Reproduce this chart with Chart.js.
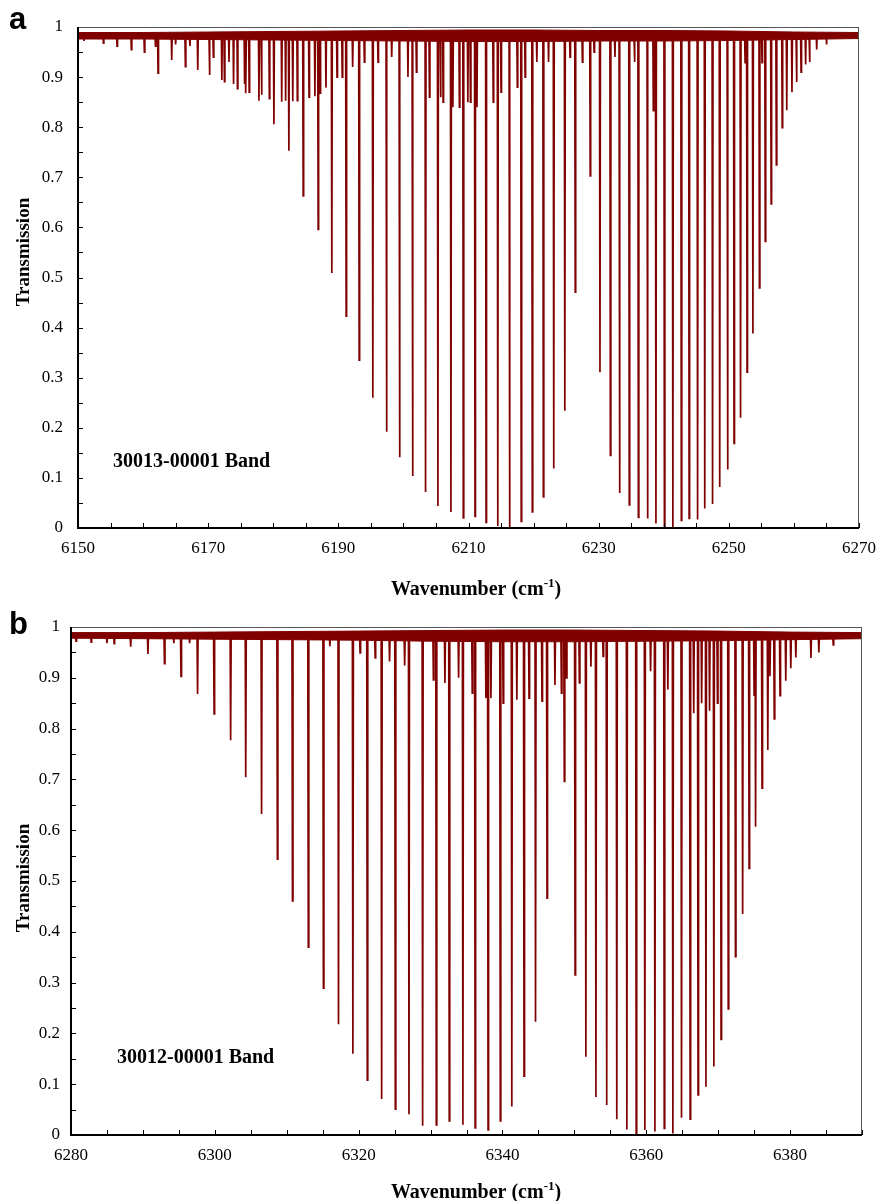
<!DOCTYPE html>
<html>
<head>
<meta charset="UTF-8">
<title>Transmission spectra</title>
<script src="https://cdn.jsdelivr.net/npm/chart.js"></script>
<style>
    body { margin: 0; background: #fff; width: 877px; height: 1201px; overflow: hidden; position: relative; }
    canvas { position: absolute; left: 0; }
    #chartA { top: 0; }
    #chartB { top: 600px; }
</style>
</head>
<body>
<canvas id="chartA" width="877" height="600"></canvas>
<canvas id="chartB" width="877" height="601"></canvas>

<script>
// ---- panel a : 30013-00001 band ----
const aCenters = [6150.9, 6153.9, 6156.0, 6158.2, 6160.2, 6161.9, 6162.3, 6164.4, 6165.0, 6166.5, 6167.2, 6168.4,
    6170.2, 6170.8, 6172.1, 6172.5, 6173.2, 6173.9, 6174.5, 6175.6, 6175.8, 6176.3, 6177.8, 6178.2, 6179.4, 6180.1,
    6181.3, 6181.9, 6182.4, 6183.0, 6183.7, 6184.6, 6185.5, 6186.4, 6186.9, 6187.2, 6188.1, 6189.0, 6189.8, 6190.6,
    6191.2, 6192.2, 6193.2, 6194.0, 6195.3, 6196.1, 6197.4, 6198.2, 6199.4, 6200.7, 6201.4, 6202.0, 6203.4, 6204.0,
    6205.3, 6205.7, 6206.1, 6207.3, 6207.6, 6208.6, 6209.2, 6209.9, 6210.3, 6211.0, 6211.3, 6212.7, 6213.8, 6214.5,
    6215.0, 6216.3, 6217.5, 6218.1, 6218.7, 6219.8, 6220.5, 6221.5, 6222.3, 6223.1, 6224.8, 6225.6, 6226.4, 6227.5,
    6228.7, 6229.3, 6230.2, 6231.8, 6232.5, 6233.2, 6234.7, 6235.5, 6236.1, 6237.5, 6238.4, 6238.8, 6240.1, 6241.4,
    6242.7, 6243.9, 6245.2, 6246.3, 6247.5, 6248.6, 6249.8, 6250.8, 6251.8, 6252.5, 6252.8, 6253.7, 6254.7, 6255.1,
    6255.6, 6256.5, 6257.3, 6258.2, 6258.9, 6259.7, 6260.4, 6261.1, 6261.8, 6262.4, 6263.5, 6265.0];
const aMinima = [0.972, 0.968, 0.962, 0.955, 0.950, 0.962, 0.908, 0.934, 0.965, 0.921, 0.962, 0.914,
    0.904, 0.940, 0.894, 0.891, 0.930, 0.886, 0.877, 0.886, 0.868, 0.870, 0.853, 0.865, 0.857, 0.806,
    0.851, 0.853, 0.753, 0.852, 0.853, 0.663, 0.860, 0.862, 0.596, 0.868, 0.879, 0.509, 0.900, 0.900,
    0.423, 0.920, 0.335, 0.930, 0.260, 0.930, 0.192, 0.940, 0.141, 0.900, 0.104, 0.910, 0.072, 0.860,
    0.044, 0.860, 0.850, 0.032, 0.840, 0.840, 0.020, 0.850, 0.850, 0.023, 0.840, 0.011, 0.850, 0.004,
    0.870, 0.000, 0.880, 0.013, 0.900, 0.032, 0.930, 0.062, 0.930, 0.119, 0.234, 0.940, 0.471, 0.930,
    0.703, 0.950, 0.311, 0.145, 0.940, 0.070, 0.046, 0.930, 0.021, 0.019, 0.833, 0.009, 0.003, 0.000,
    0.015, 0.019, 0.017, 0.039, 0.048, 0.082, 0.117, 0.169, 0.220, 0.929, 0.311, 0.388, 0.479, 0.929,
    0.572, 0.647, 0.725, 0.799, 0.834, 0.870, 0.890, 0.910, 0.925, 0.930, 0.955, 0.965];
const aEnvX = [6150, 6160, 6170, 6180, 6190, 6200, 6210, 6220, 6230, 6240, 6250, 6260, 6270];
const aEnvTop = [0.989, 0.989, 0.990, 0.991, 0.992, 0.993, 0.994, 0.994, 0.993, 0.993, 0.992, 0.990, 0.989];
const aEnvLow = [0.976, 0.976, 0.975, 0.974, 0.973, 0.972, 0.971, 0.971, 0.972, 0.972, 0.973, 0.975, 0.977];

// ---- panel b : 30012-00001 band ----
const bCenters = [6280.7, 6282.8, 6285.0, 6286.0, 6288.3, 6290.7, 6293.0, 6294.3, 6295.3, 6296.5, 6297.6, 6299.9,
    6302.2, 6304.3, 6306.5, 6308.7, 6310.8, 6313.0, 6315.1, 6316.0, 6317.2, 6319.2, 6320.2, 6321.2, 6322.3, 6323.2,
    6324.3, 6325.1, 6326.4, 6327.0, 6328.9, 6330.4, 6330.8, 6332.0, 6332.6, 6333.9, 6334.5, 6335.8, 6336.2, 6337.7,
    6338.0, 6338.4, 6339.7, 6340.1, 6341.3, 6342.0, 6343.0, 6343.7, 6344.6, 6345.5, 6346.2, 6347.3, 6348.2, 6348.6,
    6348.9, 6350.1, 6350.7, 6351.6, 6352.3, 6353.0, 6354.0, 6354.5, 6355.9, 6357.3, 6358.6, 6359.8, 6360.6, 6361.2,
    6362.5, 6363.0, 6363.7, 6364.9, 6366.1, 6366.6, 6367.2, 6367.7, 6368.3, 6368.8, 6369.4, 6369.9, 6370.4, 6371.4,
    6372.4, 6373.4, 6374.3, 6375.0, 6375.2, 6376.1, 6376.9, 6377.2, 6377.8, 6378.6, 6379.4, 6380.1, 6380.8, 6382.9,
    6384.0, 6386.0];
const bMinima = [0.972, 0.970, 0.968, 0.967, 0.961, 0.947, 0.928, 0.968, 0.903, 0.968, 0.868, 0.829,
    0.777, 0.704, 0.632, 0.543, 0.461, 0.370, 0.289, 0.962, 0.218, 0.160, 0.949, 0.108, 0.939, 0.071,
    0.932, 0.051, 0.924, 0.041, 0.018, 0.896, 0.020, 0.890, 0.028, 0.900, 0.020, 0.870, 0.014, 0.860,
    0.010, 0.860, 0.028, 0.850, 0.056, 0.857, 0.116, 0.860, 0.223, 0.854, 0.466, 0.886, 0.870, 0.696,
    0.900, 0.315, 0.890, 0.154, 0.922, 0.075, 0.942, 0.059, 0.031, 0.011, 0.002, 0.010, 0.913, 0.007,
    0.013, 0.877, 0.003, 0.034, 0.031, 0.830, 0.079, 0.850, 0.095, 0.835, 0.135, 0.850, 0.188, 0.248,
    0.351, 0.435, 0.525, 0.866, 0.607, 0.683, 0.758, 0.903, 0.819, 0.865, 0.894, 0.919, 0.940, 0.939,
    0.950, 0.965];
const bEnvX = [6280, 6290, 6300, 6310, 6320, 6330, 6340, 6350, 6360, 6370, 6380, 6390];
const bEnvTop = [0.989, 0.989, 0.990, 0.991, 0.992, 0.993, 0.994, 0.994, 0.993, 0.992, 0.990, 0.989];
const bEnvLow = [0.978, 0.977, 0.976, 0.975, 0.974, 0.972, 0.971, 0.971, 0.972, 0.973, 0.975, 0.977];

const baseLevel = 0.982;
const yTickLabels = ['0', '0.1', '0.2', '0.3', '0.4', '0.5', '0.6', '0.7', '0.8', '0.9', '1'];

const lineColor = '#800000';

// lines drawn as narrow spikes from the baseline down to each minimum
function spectrum(centers, minima, xMin, xMax) {
    const hw = 0.07;
    const order = centers.map((c, i) => i).sort((p, q) => centers[p] - centers[q]);
    const pts = [{ x: xMin, y: baseLevel }];
    order.forEach(i => {
        pts.push({ x: centers[i] - hw, y: baseLevel });
        pts.push({ x: centers[i], y: minima[i] });
        pts.push({ x: centers[i] + hw, y: baseLevel });
    });
    pts.push({ x: xMax, y: baseLevel });
    return pts;
}

function pairs(xs, ys) {
    return xs.map((x, i) => ({ x: x, y: ys[i] }));
}

// inside ticks + frame
const frameTicks = {
    id: 'frameTicks',
    afterDatasetsDraw(chart) {
        const { ctx, chartArea: a, scales: { x, y } } = chart;
        ctx.save();
        ctx.strokeStyle = '#000';
        ctx.lineWidth = 1;
        ctx.beginPath();
        x.ticks.forEach(t => {
            const px = Math.round(x.getPixelForValue(t.value)) + 0.5;
            ctx.moveTo(px, a.bottom);
            ctx.lineTo(px, a.bottom - 5);
        });
        y.ticks.forEach(t => {
            const py = Math.round(y.getPixelForValue(t.value)) + 0.5;
            ctx.moveTo(a.left, py);
            ctx.lineTo(a.left + 5, py);
        });
        ctx.stroke();
        ctx.strokeStyle = '#555';
        ctx.strokeRect(a.left + 0.5, a.top + 0.5, a.width - 1, a.height);
        ctx.strokeStyle = '#000';
        ctx.lineWidth = 2;
        ctx.beginPath();
        ctx.moveTo(a.left, a.top);
        ctx.lineTo(a.left, a.bottom);
        ctx.lineTo(a.right, a.bottom);
        ctx.stroke();
        ctx.restore();
    }
};

// text: panel letter, axis titles, band name
const notes = {
    id: 'notes',
    afterDraw(chart, args, opts) {
        const ctx = chart.ctx;
        ctx.save();
        ctx.fillStyle = '#000';
        ctx.textBaseline = 'alphabetic';
        (opts.items || []).forEach(it => {
            ctx.font = it.font;
            if (it.rotate) {
                ctx.save();
                ctx.translate(it.x, it.y);
                ctx.rotate(-Math.PI / 2);
                ctx.textAlign = 'center';
                ctx.fillText(it.text, 0, 0);
                ctx.restore();
            } else if (it.sup) {
                const w1 = ctx.measureText(it.text).width;
                const w3 = ctx.measureText(it.after).width;
                ctx.font = it.supFont;
                const w2 = ctx.measureText(it.sup).width;
                const x0 = it.x - (w1 + w2 + w3) / 2;
                ctx.textAlign = 'left';
                ctx.font = it.font;
                ctx.fillText(it.text, x0, it.y);
                ctx.font = it.supFont;
                ctx.fillText(it.sup, x0 + w1, it.y - 8);
                ctx.font = it.font;
                ctx.fillText(it.after, x0 + w1 + w2, it.y);
            } else {
                ctx.textAlign = 'left';
                ctx.fillText(it.text, it.x, it.y);
            }
        });
        ctx.restore();
    }
};

const serif = '"Liberation Serif", "Times New Roman", serif';

function makeChart(id, opts) {
    const ctx = document.getElementById(id).getContext('2d');
    return new Chart(ctx, {
        type: 'line',
        data: {
            datasets: [
                {
                    data: pairs(opts.envX, opts.envTop),
                    borderColor: lineColor, borderWidth: 1, pointRadius: 0, fill: false
                },
                {
                    data: pairs(opts.envX, opts.envLow),
                    borderColor: lineColor, borderWidth: 1, pointRadius: 0,
                    backgroundColor: lineColor, fill: '-1'
                },
                {
                    data: spectrum(opts.centers, opts.minima, opts.xMin, opts.xMax),
                    borderColor: lineColor, borderWidth: 1.7, pointRadius: 0, fill: false,
                    tension: 0
                }
            ]
        },
        options: {
            responsive: false,
            animation: false,
            events: [],
            layout: { padding: { top: 27, right: opts.padRight, left: 0, bottom: 0 } },
            plugins: {
                legend: { display: false },
                tooltip: { enabled: false },
                notes: { items: opts.notes }
            },
            scales: {
                x: {
                    type: 'linear',
                    min: opts.xMin, max: opts.xMax,
                    grid: { display: false, drawTicks: false },
                    border: { display: false },
                    afterFit: s => { s.height = opts.xAxisHeight; s.paddingLeft = 0; s.paddingRight = 0; },
                    ticks: {
                        stepSize: 5, autoSkip: false, maxRotation: 0, padding: 10,
                        color: '#000', font: { family: serif, size: 17 },
                        callback: v => ((v - opts.xMin) % 20 === 0 ? String(v) : '')
                    }
                },
                y: {
                    min: 0, max: 1,
                    grid: { display: false, drawTicks: false },
                    border: { display: false },
                    afterFit: s => { s.width = opts.yAxisWidth; s.paddingTop = 0; s.paddingBottom = 0; },
                    ticks: {
                        stepSize: 0.05, autoSkip: false, padding: opts.yPad,
                        color: '#000', font: { family: serif, size: 17 },
                        callback: v => {
                            const k = Math.round(v * 20);
                            return k % 2 === 0 ? yTickLabels[k / 2] : '';
                        }
                    }
                }
            }
        },
        plugins: [frameTicks, notes]
    });
}

makeChart('chartA', {
    centers: aCenters, minima: aMinima, envX: aEnvX, envTop: aEnvTop, envLow: aEnvLow,
    xMin: 6150, xMax: 6270, padRight: 18, xAxisHeight: 72, yAxisWidth: 78, yPad: 15,
    notes: [
        { text: 'a', x: 9, y: 29, font: 'bold 31px "Liberation Sans", Arial, sans-serif' },
        { text: 'Transmission', x: 29, y: 252, rotate: true, font: 'bold 19px ' + serif },
        { text: 'Wavenumber (cm', sup: '-1', after: ')', x: 476, y: 595,
          font: 'bold 20px ' + serif, supFont: 'bold 13px ' + serif },
        { text: '30013-00001 Band', x: 113, y: 467, font: 'bold 20px ' + serif }
    ]
});

makeChart('chartB', {
    centers: bCenters, minima: bMinima, envX: bEnvX, envTop: bEnvTop, envLow: bEnvLow,
    xMin: 6280, xMax: 6390, padRight: 15, xAxisHeight: 66, yAxisWidth: 71, yPad: 11,
    notes: [
        { text: 'b', x: 9, y: 34, font: 'bold 31px "Liberation Sans", Arial, sans-serif' },
        { text: 'Transmission', x: 29, y: 278, rotate: true, font: 'bold 19px ' + serif },
        { text: 'Wavenumber (cm', sup: '-1', after: ')', x: 476, y: 598,
          font: 'bold 20px ' + serif, supFont: 'bold 13px ' + serif },
        { text: '30012-00001 Band', x: 117, y: 463, font: 'bold 20px ' + serif }
    ]
});
</script>
</body>
</html>
